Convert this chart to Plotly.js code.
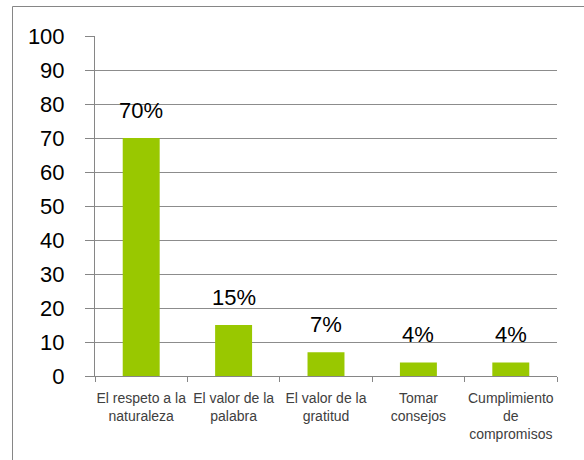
<!DOCTYPE html>
<html>
<head>
<meta charset="utf-8">
<script src="https://cdn.plot.ly/plotly-3.0.1.min.js"></script>
<style>
html,body{margin:0;padding:0;background:#fff;}
#chart{width:584px;height:460px;}
</style>
</head>
<body>
<div id="chart"></div>
<script>
const categories = [
  "El respeto a la<br>naturaleza",
  "El valor de la<br>palabra",
  "El valor de la<br>gratitud",
  "Tomar<br>consejos",
  "Cumplimiento<br>de<br>compromisos"
];
const values = [70, 15, 7, 4, 4];
const labels = ["70%", "15%", "7%", "4%", "4%"];
const yTicks = [0, 10, 20, 30, 40, 50, 60, 70, 80, 90, 100];

const trace = {
  type: "bar",
  x: categories,
  y: values,
  marker: {color: "#99C800", line: {width: 0}},
  width: 0.4,
  hoverinfo: "none"
};

const annotations = categories.map((c, i) => ({
  x: c, y: values[i], xref: "x", yref: "y",
  text: labels[i], showarrow: false,
  yanchor: "bottom", yshift: 13,
  font: {family: "Liberation Sans, Arial, sans-serif", size: 22, color: "#000"}
}));

const layout = {
  width: 584, height: 460,
  margin: {l: 95, r: 27, t: 36, b: 84},
  paper_bgcolor: "#fff", plot_bgcolor: "#fff",
  showlegend: false,
  bargap: 0.6,
  xaxis: {
    type: "category",
    showline: true, linecolor: "#868686", linewidth: 1,
    ticks: "outside", tickson: "boundaries", ticklen: 5, tickcolor: "#868686",
    showgrid: false,
    ticklabelstandoff: 9,
    tickfont: {family: "Liberation Sans, Arial, sans-serif", size: 14, color: "#404040"},
    tickangle: 0
  },
  yaxis: {
    range: [0, 100],
    tickvals: yTicks,
    ticktext: yTicks.map(String),
    showline: true, linecolor: "#868686", linewidth: 1,
    ticks: "outside", ticklen: 9, tickcolor: "#868686",
    showgrid: true, gridcolor: "#8c8c8c", gridwidth: 1,
    zeroline: false,
    ticklabelstandoff: 16,
    tickfont: {family: "Liberation Sans, Arial, sans-serif", size: 22, color: "#000"}
  },
  annotations: annotations,
  shapes: [{
    type: "rect", xref: "paper", yref: "paper",
    x0: (12.5 - 95) / 462, x1: (600 - 95) / 462,
    y0: (376 - 480) / 340, y1: (376 - 6.5) / 340,
    line: {color: "#868686", width: 1}, fillcolor: "rgba(0,0,0,0)", layer: "below"
  }]
};

Plotly.newPlot("chart", [trace], layout, {displayModeBar: false, staticPlot: true});
</script>
</body>
</html>
